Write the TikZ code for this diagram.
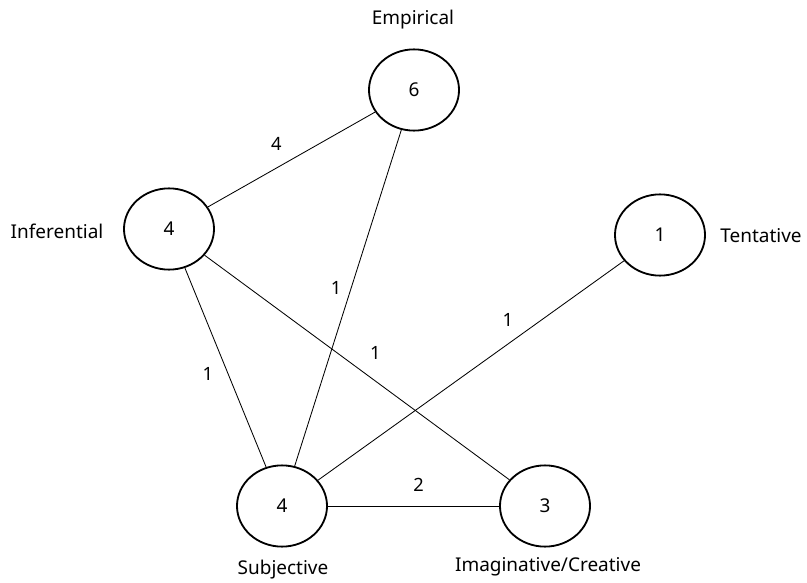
\documentclass[tikz,border=0pt]{standalone}
\usepackage{fontspec}
\setmainfont{Noto Sans}
\usepackage{tikz}
\usetikzlibrary{shapes.geometric}

\begin{document}
\begin{tikzpicture}[
  x=0.025cm, y=-0.025cm,
  circ/.style={draw, ellipse, line width=1.3pt, minimum width=2.25cm,
               minimum height=2.03cm, font=\fontsize{13.5}{16}\selectfont},
  tag/.style={font=\fontsize{13.5}{16}\selectfont},
  link/.style={line width=0.6pt},
  lbl/.style={font=\fontsize{13}{15}\selectfont, inner sep=1pt}
]
  \useasboundingbox (0,0) rectangle (807,583);

  \node[circ] (emp)  at (414, 90)  {6};
  \node[circ] (inf)  at (169, 229) {4};
  \node[circ] (tent) at (660, 235) {1};
  \node[circ] (subj) at (282, 506) {4};
  \node[circ] (imag) at (545, 506) {3};

  \node[tag] (emplbl)  at (413, 20)  {Empirical};
  \node[tag] (inflbl)  at (57, 231)  {Inferential};
  \node[tag] (tentlbl) at (761, 236) {Tentative};
  \node[tag] (subjlbl) at (283, 570) {Subjective};
  \node[tag] (imaglbl) at (548, 567) {Imaginative/Creative};

  \draw[link] (inf) -- node[lbl, pos=0.41, shift={(0,-24)}] {4} (emp);
  \draw[link] (emp) -- node[lbl, pos=0.47, shift={(-15,0)}] {1} (subj);
  \draw[link] (inf) -- node[lbl, pos=0.53, shift={(-20,0)}] {1} (subj);
  \draw[link] (inf) -- node[lbl, pos=0.56, shift={(0,-28)}] {1} (imag);
  \draw[link] (tent) -- node[lbl, pos=0.38, shift={(0,-24)}] {1} (subj);
  \draw[link] (subj) -- node[lbl, pos=0.53, shift={(0,-21)}] {2} (imag);
\end{tikzpicture}
\end{document}
